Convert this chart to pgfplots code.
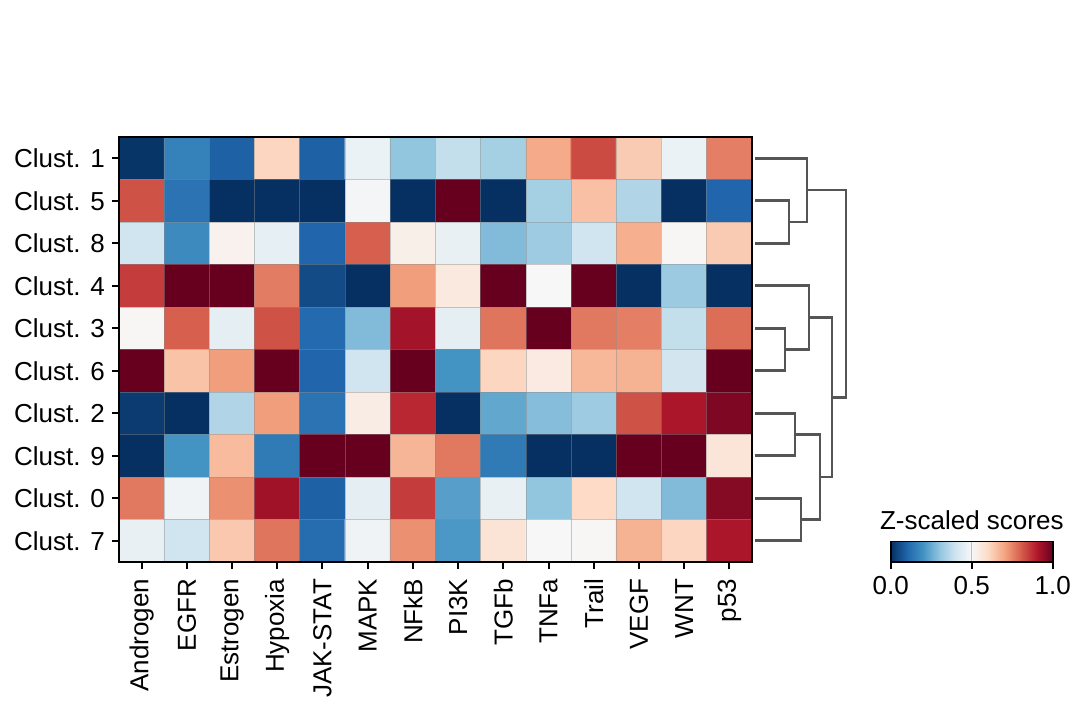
\documentclass[border=0pt]{standalone}
\usepackage{pgfplots}
\pgfplotsset{compat=1.18}
\usepackage{fontspec}
\setmainfont{Liberation Sans}

\pgfplotsset{
  /pgf/number format/assume math mode=true,
  colormap={rdbu}{rgb255=(5,48,97) rgb255=(33,102,172) rgb255=(67,147,195)
    rgb255=(146,197,222) rgb255=(209,229,240) rgb255=(247,247,247)
    rgb255=(253,219,199) rgb255=(244,165,130) rgb255=(214,96,77)
    rgb255=(178,24,43) rgb255=(103,0,31)},
}
\definecolor{dendro}{HTML}{555555}
\tikzset{dendrolink/.style={dendro, line width=1.35pt, mark=none,
    line join=miter, line cap=butt}}
\newcommand{\lblfont}{\fontsize{13pt}{15.6pt}\selectfont}

\begin{document}
\begin{tikzpicture}[font=\lblfont]
\path[use as bounding box] (0,0) rectangle (543.5pt,356.5pt);

% ---------------- heatmap of pathway scores ----------------
\begin{axis}[
  at={(59.5pt,75.5pt)}, anchor=south west,
  scale only axis, width=316.5pt, height=212.5pt,
  xmin=-0.5, xmax=13.5, ymin=-0.5, ymax=9.5, y dir=reverse,
  enlargelimits=false, axis on top,
  xtick={0,...,13},
  xticklabels={Androgen,EGFR,Estrogen,Hypoxia,JAK-STAT,MAPK,NFkB,PI3K,TGFb,TNFa,Trail,VEGF,WNT,p53},
  ytick={0,...,9},
  yticklabels={Clust. 1,Clust. 5,Clust. 8,Clust. 4,Clust. 3,Clust. 6,Clust. 2,Clust. 9,Clust. 0,Clust. 7},
  xtick pos=left, ytick pos=left,
  minor xtick={0.5,1.5,...,12.5}, minor ytick={0.5,1.5,...,8.5},
  xminorgrids, yminorgrids,
  minor grid style={black!45, opacity=0.45, line width=0.4pt},
  minor tick length=0pt,
  tick align=outside, major tick length=3.6pt,
  tick style={black, line width=1pt},
  axis line style={black, line width=1.3pt},
  tick label style={font=\lblfont},
  xticklabel style={rotate=90, anchor=east, outer xsep=1.5pt},
  colormap name=rdbu, point meta min=0, point meta max=1,
  colorbar horizontal,
  colorbar shift/.style={},
  colorbar style={
    at={(parent axis.south east)}, anchor=south west, xshift=69.4pt,
    scale only axis, width=81pt, height=10.3pt,
    xtick={0,0.5,1}, xtick pos=left,
    xticklabel style={rotate=0, anchor=north, font=\lblfont, outer xsep=0pt,
      /pgf/number format/.cd, fixed, fixed zerofill, precision=1},
    tick align=outside, major tick length=3.6pt,
    tick style={black, line width=0.7pt},
    axis line style={black, line width=0.7pt},
    xmajorgrids, major grid style={black!25, line width=0.6pt},
    title={Z-scaled scores},
    title style={at={(0.5,1)}, anchor=base, yshift=-0.2pt, font=\lblfont},
  },
]
\addplot[matrix plot*, mesh/cols=14, point meta=explicit]
  table[meta=c] {
x y c
0 0 0.01
1 0 0.16
2 0 0.09
3 0 0.61
4 0 0.09
5 0 0.47
6 0 0.30
7 0 0.38
8 0 0.33
9 0 0.69
10 0 0.83
11 0 0.63
12 0 0.47
13 0 0.755
0 1 0.82
1 1 0.13
2 1 0
3 1 0
4 1 0
5 1 0.49
6 1 0
7 1 1
8 1 0
9 1 0.33
10 1 0.65
11 1 0.35
12 1 0
13 1 0.10
0 2 0.40
1 2 0.18
2 2 0.52
3 2 0.455
4 2 0.10
5 2 0.80
6 2 0.53
7 2 0.46
8 2 0.28
9 2 0.32
10 2 0.40
11 2 0.68
12 2 0.505
13 2 0.63
0 3 0.85
1 3 1
2 3 1
3 3 0.76
4 3 0.05
5 3 0
6 3 0.71
7 3 0.55
8 3 1
9 3 0.50
10 3 1
11 3 0
12 3 0.315
13 3 0
0 4 0.505
1 4 0.80
2 4 0.45
3 4 0.82
4 4 0.11
5 4 0.28
6 4 0.92
7 4 0.45
8 4 0.77
9 4 1
10 4 0.765
11 4 0.755
12 4 0.38
13 4 0.78
0 5 1
1 5 0.645
2 5 0.71
3 5 1
4 5 0.10
5 5 0.40
6 5 1
7 5 0.20
8 5 0.61
9 5 0.545
10 5 0.665
11 5 0.675
12 5 0.405
13 5 1
0 6 0.02
1 6 0
2 6 0.35
3 6 0.71
4 6 0.13
5 6 0.54
6 6 0.88
7 6 0
8 6 0.24
9 6 0.285
10 6 0.32
11 6 0.82
12 6 0.91
13 6 0.97
0 7 0
1 7 0.20
2 7 0.66
3 7 0.145
4 7 1
5 7 1
6 7 0.67
7 7 0.765
8 7 0.145
9 7 0
10 7 0
11 7 1
12 7 1
13 7 0.565
0 8 0.765
1 8 0.48
2 8 0.73
3 8 0.925
4 8 0.09
5 8 0.45
6 8 0.85
7 8 0.225
8 8 0.46
9 8 0.30
10 8 0.60
11 8 0.40
12 8 0.28
13 8 0.96
0 9 0.46
1 9 0.40
2 9 0.635
3 9 0.77
4 9 0.115
5 9 0.48
6 9 0.73
7 9 0.21
8 9 0.57
9 9 0.50
10 9 0.505
11 9 0.675
12 9 0.61
13 9 0.91
};
\end{axis}

% ---------------- dendrogram of the clusters ----------------
\begin{axis}[
  at={(376pt,75.5pt)}, anchor=south west,
  scale only axis, width=50pt, height=212.5pt,
  xmin=-1, xmax=99, ymin=-0.5, ymax=9.5, y dir=reverse,
  hide axis, clip=false,
]
\addplot[dendrolink] coordinates {(2,1) (36,1) (36,2) (2,2)};
\addplot[dendrolink] coordinates {(2,0) (54,0) (54,1.5) (36,1.5)};
\addplot[dendrolink] coordinates {(2,4) (32,4) (32,5) (2,5)};
\addplot[dendrolink] coordinates {(2,3) (56,3) (56,4.5) (32,4.5)};
\addplot[dendrolink] coordinates {(2,6) (42,6) (42,7) (2,7)};
\addplot[dendrolink] coordinates {(2,8) (48,8) (48,9) (2,9)};
\addplot[dendrolink] coordinates {(42,6.5) (67,6.5) (67,8.5) (48,8.5)};
\addplot[dendrolink] coordinates {(56,3.75) (79,3.75) (79,7.5) (67,7.5)};
\addplot[dendrolink] coordinates {(54,0.75) (93,0.75) (93,5.625) (79,5.625)};
\end{axis}
\end{tikzpicture}
\end{document}
